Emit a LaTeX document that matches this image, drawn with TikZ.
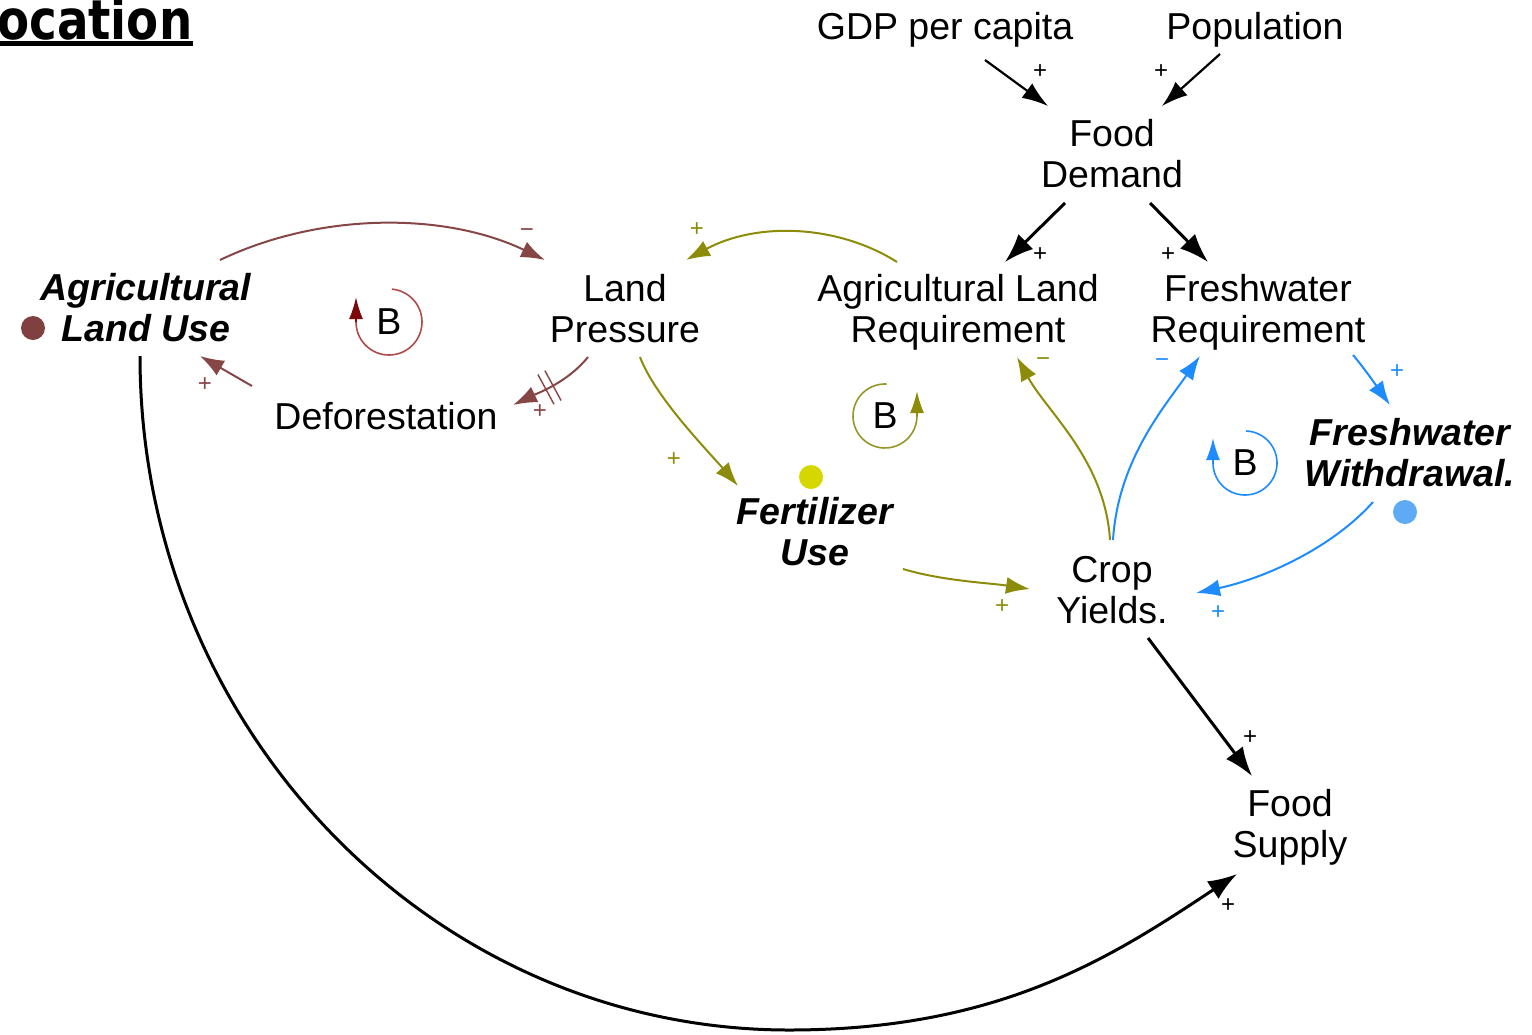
\documentclass[tikz,border=0pt]{standalone}
\usepackage{fontspec}
\setmainfont{Liberation Sans}
\newfontfamily\titlefont[FakeStretch=0.85]{DejaVu Sans}
\usetikzlibrary{arrows.meta,calc,decorations.markings}
\definecolor{brn}{RGB}{135,70,70}
\definecolor{brnloop}{RGB}{175,75,75}
\definecolor{brnhead}{RGB}{125,10,10}
\definecolor{olv}{RGB}{140,140,10}
\definecolor{olvloop}{RGB}{150,150,40}
\definecolor{blu}{RGB}{30,140,255}
\definecolor{bludot}{RGB}{95,170,245}
\definecolor{ylw}{RGB}{215,215,0}
\definecolor{brndot}{RGB}{128,64,64}
\newcommand\varfont{\fontsize{37.5}{41}\selectfont}
\newcommand\sgnfont{\fontsize{24}{24}\selectfont}
\begin{document}
\begin{tikzpicture}[x=1pt,y=-1pt,
 var/.style={align=center,inner sep=0pt,font=\varfont},
 bvar/.style={align=center,inner sep=0pt,font=\varfont\bfseries\itshape},
 sgn/.style={inner sep=0pt,font=\sgnfont},
 blk/.style={line width=3pt,-{Latex[length=29pt,width=21pt]}},
 blkthin/.style={line width=2.2pt,-{Latex[length=26pt,width=18pt]}},
 lnk/.style={line width=2pt,-{Latex[length=24pt,width=17pt]}},
 loopc/.style={line width=1.6pt},
 looptip/.style={line width=1.6pt,-{Latex[length=22pt,width=14pt]}},
 dot/.style={circle,inner sep=0pt,minimum size=24pt},
 hash/.style={postaction={decorate,decoration={markings,mark=at position 0.55 with {\draw[brn,line width=1.4pt,-] (-4pt,-17pt) -- (-4pt,17pt) (4pt,-17pt) -- (4pt,17pt);}}}}
]
\useasboundingbox (0,0) rectangle (1532,1034);

% title
\node[anchor=base west,inner sep=0pt,font=\titlefont\bfseries\fontsize{55}{55}\selectfont] (title) at (-3,39) {ocation};
\fill ($(title.base west)+(3,2)$) rectangle ($(title.base east)+(0,7)$);

% variables
\node[var] (gdp) at (945,30) {GDP per capita};
\node[var] (pop) at (1255,30) {Population};
\node[var] (fd) at (1112,154) {Food\\Demand};
\node[var] (alr) at (958,312) {Agricultural Land\\Requirement};
\node[var] (fwr) at (1258,312) {Freshwater\\Requirement};
\node[var] (lp) at (625,309) {Land\\Pressure};
\node[bvar] (alu) at (146,308) {Agricultural\\Land Use};
\node[var] (def) at (386,416) {Deforestation};
\node[bvar] (fu) at (815,532) {Fertilizer\\Use};
\node[var] (cy) at (1112,590) {Crop\\Yields.};
\node[bvar] (fww) at (1410,453) {Freshwater\\Withdrawal.};
\node[var] (fs) at (1290,827) {Food\\Supply};

% dots
\node[dot,fill=brndot] (aludot) at (33,328) {};
\node[dot,fill=ylw] (fudot) at (811,477) {};
\node[dot,fill=bludot] (fwwdot) at (1405,512) {};

% links
\draw[blkthin] ($(gdp)+(40,30)$) -- ($(fd)+(-64,-48)$);
\draw[blkthin] ($(pop)+(-35,24)$) -- ($(fd)+(50,-48)$);
\draw[blk] ($(fd)+(-47,49)$) -- ($(alr)+(47,-50)$);
\draw[blk] ($(fd)+(38,49)$) -- ($(fwr)+(-50,-50)$);
\draw[lnk,brn] ($(alu)+(74,-48)$) .. controls +(100,-48) and +(-100,-48) .. ($(lp)+(-80,-49)$);
\draw[lnk,brn,hash] ($(lp)+(-37,48)$) .. controls +(-20,25) and +(25,-12) .. ($(def)+(127,-11)$);
\draw[lnk,brn] ($(def)+(-134,-30)$) -- ($(alu)+(54,48)$);
\draw[lnk,olv] ($(alr)+(-61,-50)$) .. controls +(-60,-38) and +(70,-38) .. ($(lp)+(61,-49)$);
\draw[lnk,olv] ($(lp)+(15,48)$) .. controls +(15,40) and +(-30,-35) .. ($(fu)+(-77,-46)$);
\draw[lnk,olv] ($(fu)+(88,37)$) .. controls +(40,12) and +(-40,-6) .. ($(cy)+(-82,-1)$);
\draw[lnk,olv] ($(cy)+(-2,-50)$) .. controls +(-5,-80) and +(30,55) .. ($(alr)+(59,45)$);
\draw[lnk,blu] ($(cy)+(1,-50)$) .. controls +(5,-80) and +(-35,50) .. ($(fwr)+(-58,44)$);
\draw[lnk,blu] ($(fwr)+(95,43)$) .. controls +(12,14) and +(-10,-14) .. ($(fww)+(-20,-48)$);
\draw[lnk,blu] ($(fww)+(-37,49)$) .. controls +(-40,45) and +(70,-15) .. ($(cy)+(84,3)$);
\draw[blk] ($(cy)+(36,48)$) -- ($(fs)+(-38,-51)$);
\coordinate (bot) at (789,1030);
\draw[blk] ($(alu)+(-6,48)$) .. controls +(0,371) and +(-358,0) .. (bot) .. controls +(211,0) and +(-125,83) .. ($(fs)+(-53,47)$);

% polarity signs
\node[sgn] (s1) at (1040,72) {+};
\node[sgn] (s2) at (1161,72) {+};
\node[sgn] (s3) at (1040,255) {+};
\node[sgn] (s4) at (1168,255) {+};
\node[sgn,text=brn] (s5) at (527,233) {−};
\node[sgn,text=brn] (s6) at (540,412) {+};
\node[sgn,text=brn] (s7) at (205,385) {+};
\node[sgn,text=olv] (s8) at (697,230) {+};
\node[sgn,text=olv] (s9) at (674,460) {+};
\node[sgn,text=olv] (s10) at (1002,607) {+};
\node[sgn,text=olv] (s11) at (1043,362) {−};
\node[sgn,text=blu] (s12) at (1162,363) {−};
\node[sgn,text=blu] (s13) at (1397,372) {+};
\node[sgn,text=blu] (s14) at (1218,613) {+};
\node[sgn] (s15) at (1250,738) {+};
\node[sgn] (s16) at (1228,906) {+};

% loop markers
\node[var] (b1) at (389,322) {B};
\draw[brnloop,loopc] ($(b1)+(-85:33)$) arc[start angle=-85, end angle=180, radius=33];
\draw[brnhead,looptip] ($(b1)+(180:33)$) -- ++(0,-25);
\node[var] (b2) at (885,416) {B};
\draw[olvloop,loopc] ($(b2)+(273:32)$) arc[start angle=273, end angle=0, radius=32];
\draw[olv,looptip] ($(b2)+(0:32)$) -- ++(0,-25);
\node[var] (b3) at (1245,463) {B};
\draw[blu,loopc] ($(b3)+(-88:32)$) arc[start angle=-88, end angle=180, radius=32];
\draw[blu,looptip] ($(b3)+(180:32)$) -- ++(0,-25);
\end{tikzpicture}
\end{document}
